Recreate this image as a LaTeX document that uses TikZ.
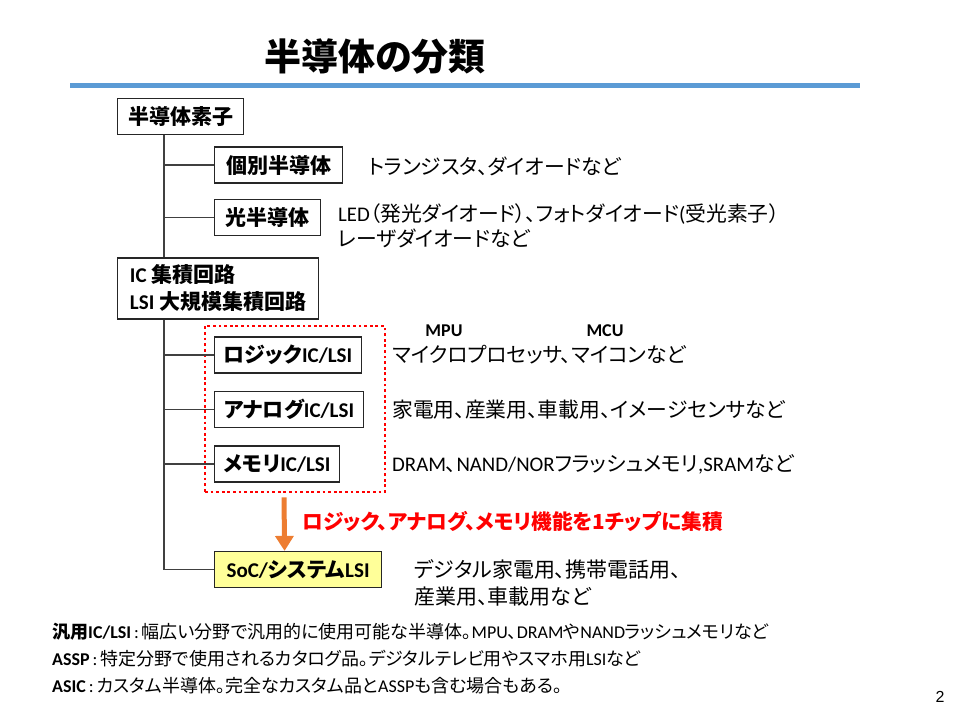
\documentclass[tikz,border=0pt]{standalone}
\usepackage{fontspec}
\setmainfont{Noto Sans CJK JP}[RawFeature=+palt]
\newfontfamily\latn{Carlito}
\newfontfamily\pagefont{Liberation Sans}
\usetikzlibrary{arrows.meta,positioning}

\definecolor{titlebar}{HTML}{5B9BD5}
\definecolor{mergeorange}{HTML}{ED7D31}
\definecolor{socfill}{HTML}{FFFF99}

\tikzset{
  partbox/.style={draw=black!85, line width=1.2pt, anchor=west, inner xsep=9pt,
    minimum height=36pt, font=\fontsize{21}{27}\selectfont\bfseries},
  branch/.style={draw=black!75, line width=1.1pt},
  desc/.style={anchor=west, inner sep=0pt, align=left, font=\fontsize{20.8}{25}\selectfont},
  note/.style={anchor=west, inner sep=0pt, font=\fontsize{18}{20}\selectfont}
}

\begin{document}
\begin{tikzpicture}[x=1pt, y=-1pt]

  \useasboundingbox (0,0) rectangle (955,714);

  \node [font=\fontsize{37}{40}\selectfont\bfseries] (title) at (375,57) {半導体の分類};
  \draw [titlebar, line width=5pt] (70,86) -- (860,86);

  \node [partbox, minimum width=126pt] (root) at (117,116.5) {半導体素子};
  \node [partbox, minimum width=128pt] (discrete) at (214,165) {個別半導体};
  \node [partbox, minimum width=106pt] (opto) at (214,217.5) {光半導体};
  \node [partbox, align=left, minimum width=201pt, minimum height=61pt] (ic) at (117,288.5)
    {{\latn IC} 集積回路\\{\latn LSI} 大規模集積回路};

  \node [desc] (discrete desc) at (368,166) {トランジスタ、ダイオードなど};
  \node [desc] (opto desc) at (338,225.5)
    {{\latn LED}（発光ダイオード）、フォトダイオード{\latn (}受光素子）\\レーザダイオードなど};

  \coordinate (trunkA) at ([xshift=47pt]root.south west);
  \coordinate (trunkB) at ([xshift=47pt]ic.south west);
  \draw [branch] (trunkA) -- (trunkA |- ic.north);
  \draw [branch] (discrete.west) -- (discrete.west -| trunkA);
  \draw [branch] (opto.west) -- (opto.west -| trunkA);

  % IC/LSI group
  \node [draw=red, line width=2.8pt, dash pattern=on 2.8pt off 2.8pt, inner sep=0pt,
    minimum width=180pt, minimum height=166pt] (group) at (295,409) {};

  \foreach \nm/\lab/\y/\w/\desc in {logic/ロジック/355/141/{マイクロプロセッサ、マイコンなど},
      analog/アナログ/409.5/149/{家電用、産業用、車載用、イメージセンサなど},
      memory/メモリ/464/122/{{\latn DRAM}、{\latn NAND/NOR}フラッシュメモリ{\latn ,SRAM}など}} {
    \node [partbox, minimum width=\w pt] (\nm) at (214,\y) {\lab{\latn IC/LSI}};
    \node [desc] (\nm\space desc) at (392,\y) {\desc};
    \draw [branch] (\nm.west) -- (\nm.west -| trunkB);
  }

  \node [font=\latn\fontsize{18}{20}\selectfont\bfseries] (mpu) at (444,331) {MPU};
  \node [font=\latn\fontsize{18}{20}\selectfont\bfseries] (mcu) at (605,331) {MCU};

  \node [partbox, fill=socfill, minimum width=167pt] (soc) at (214,569.5)
    {{\latn SoC/}システム{\latn LSI}};
  \draw [branch] (trunkB) |- (soc.west);
  \node [desc, font=\fontsize{21}{27}\selectfont] (soc desc) at (414,582.5)
    {デジタル家電用、携帯電話用、\\産業用、車載用など};

  \draw [mergeorange, line width=5pt, -{Triangle[width=18pt,length=15pt]}]
    ([xshift=-11pt,yshift=-4pt]group.south) -- ([xshift=-13.5pt]soc.north);
  \node [anchor=west, inner sep=0pt, text=red, font=\fontsize{20.7}{22}\selectfont\bfseries]
    (merge) at (302,521) {ロジック、アナログ、メモリ機能を1チップに集積};

  \foreach \lab/\txt [count=\i] in {
      {汎用{\latn IC/LSI}}/{幅広い分野で汎用的に使用可能な半導体。{\latn MPU}、{\latn DRAM}や{\latn NAND}ラッシュメモリなど},
      {\latn ASSP}/{特定分野で使用されるカタログ品。デジタルテレビ用やスマホ用{\latn LSI}など},
      {\latn ASIC}/{カスタム半導体。完全なカスタム品と{\latn ASSP}も含む場合もある。}} {
    \pgfmathsetmacro{\ny}{605 + 27 * \i}
    \node [note] (note\i) at (52,\ny) {{\bfseries\lab}{\latn\,:\,}\txt};
  }

  \node [font=\pagefont\fontsize{16}{18}\selectfont] (page) at (940,697) {2};

\end{tikzpicture}
\end{document}
